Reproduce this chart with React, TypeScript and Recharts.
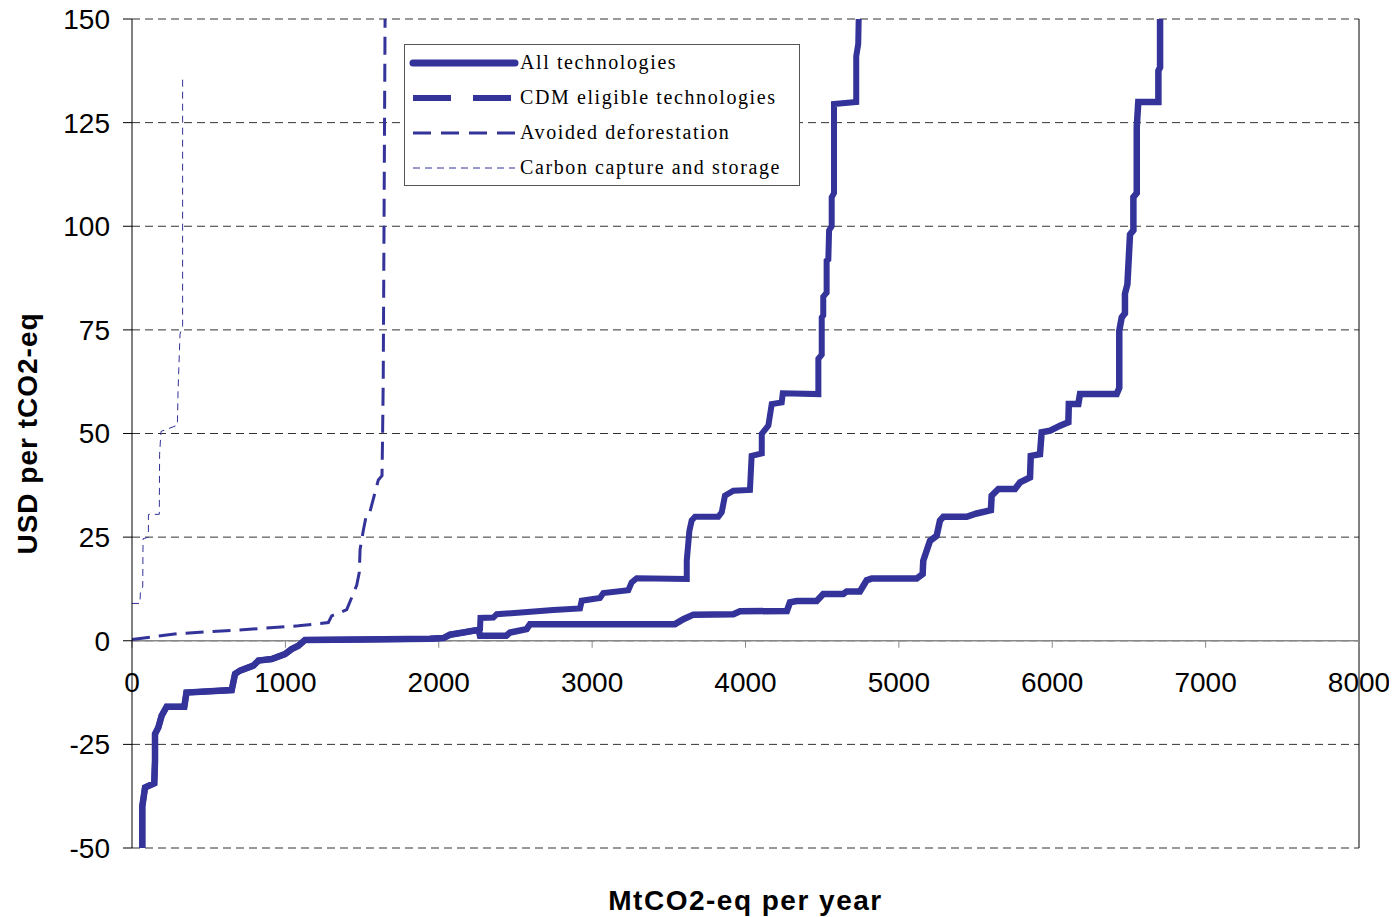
import React from 'react';
import {
  LineChart,
  Line,
  XAxis,
  YAxis,
  CartesianGrid,
  Legend,
  ReferenceLine,
  ReferenceDot,
} from 'recharts';

const xTicks = [0, 1000, 2000, 3000, 4000, 5000, 6000, 7000, 8000];
const yTicks = [-50, -25, 0, 25, 50, 75, 100, 125, 150];

// [MtCO2-eq, USD/tCO2-eq] – the part both supply curves have in common
const sharedCurve: [number, number][] = [
  [67, -50], [67, -40], [85, -35.4], [145, -34.4], [150, -29], [150, -22.5],
  [172, -20.9], [193, -18.1], [226, -15.9], [341, -15.9], [355, -12.5],
  [650, -11.9], [672, -8], [704, -7.2], [791, -6], [824, -4.8], [911, -4.4],
  [998, -3.2], [1041, -2], [1085, -1.2], [1128, 0.2], [1500, 0.3], [1943, 0.5],
  [2030, 0.65], [2073, 1.45], [2160, 2.0], [2225, 2.4], [2260, 2.6],
];

const allTechTail: [number, number][] = [
  [2269, 1.2], [2440, 1.2], [2465, 2.0], [2573, 2.8], [2595, 4.0], [3540, 4.0],
  [3595, 5.2], [3660, 6.3], [3921, 6.4], [3964, 7.1], [4270, 7.2], [4290, 9.25],
  [4334, 9.6], [4464, 9.6], [4507, 11.3], [4638, 11.3], [4660, 11.9], [4746, 11.9],
  [4790, 14.6], [4823, 15.0], [5116, 15.0], [5155, 16.1], [5159, 19.3], [5181, 21.7],
  [5203, 24.1], [5246, 25.3], [5268, 29.0], [5290, 29.9], [5442, 29.9], [5507, 30.7],
  [5600, 31.5], [5605, 35.0], [5649, 36.6], [5757, 36.6], [5790, 38.2], [5855, 39.4],
  [5860, 44.6], [5920, 45.0], [5931, 50.3], [5986, 50.7], [6051, 51.9], [6105, 52.7],
  [6108, 57.1], [6170, 57.1], [6181, 59.5], [6420, 59.5], [6437, 61], [6437, 74.8],
  [6453, 78], [6474, 79], [6474, 83.7], [6490, 86], [6507, 98], [6529, 99],
  [6529, 107], [6551, 108], [6551, 124], [6561, 130], [6692, 130], [6692, 137.5],
  [6703, 138.3], [6703, 150],
];

const cdmTail: [number, number][] = [
  [2269, 2.8], [2272, 5.5], [2356, 5.6], [2378, 6.4], [2747, 7.4], [2921, 7.8],
  [2932, 9.65], [3051, 10.3], [3073, 11.5], [3236, 12.2], [3258, 14.1], [3291, 15.1],
  [3617, 14.9], [3617, 19.3], [3634, 26.5], [3649, 29.0], [3671, 29.9], [3823, 29.9],
  [3845, 31.0], [3866, 35.0], [3921, 36.2], [4029, 36.4], [4040, 44.6], [4106, 45.2],
  [4106, 49.9], [4149, 51.9], [4171, 57.1], [4236, 57.5], [4243, 59.7], [4475, 59.5],
  [4475, 68], [4497, 69], [4497, 78], [4507, 78.5], [4507, 83], [4529, 84],
  [4529, 91.7], [4540, 92], [4545, 99], [4562, 100], [4562, 107], [4577, 108],
  [4577, 129.5], [4722, 130], [4722, 141], [4735, 144], [4738, 150],
];

const deforestation: [number, number][] = [
  [0, 0.3], [291, 1.7], [700, 2.6], [1085, 3.6], [1280, 4.4], [1302, 6.0],
  [1400, 7.5], [1465, 13.4], [1482, 16.5], [1487, 22], [1508, 26.6], [1530, 30.7],
  [1552, 31.2], [1606, 38.8], [1630, 39.8], [1634, 50], [1638, 63], [1650, 150],
];

const ccs: [number, number][] = [
  [0, 9], [52, 9], [55, 12], [70, 13], [72, 24.6], [107, 25], [107, 30.5],
  [178, 30.5], [180, 45], [189, 50.5], [296, 52], [300, 60], [313, 74],
  [330, 76], [330, 136.5],
];

const toPoints = (pts: [number, number][]) => pts.map(([x, y]) => ({ x, y }));

const allTechData = toPoints([...sharedCurve, ...allTechTail]);
const cdmData = toPoints([...sharedCurve, ...cdmTail]);
const deforestationData = toPoints(deforestation);
const ccsData = toPoints(ccs);

const BLUE = '#333399';

const legendItems = [
  { name: 'All technologies', width: 7, dash: undefined, cap: 'round' },
  { name: 'CDM eligible technologies', width: 6, dash: '38 22', cap: 'butt' },
  { name: 'Avoided deforestation', width: 3, dash: '18 10', cap: 'butt' },
  { name: 'Carbon capture and storage', width: 1, dash: '7 5', cap: 'butt' },
];

const renderLegend = () => (
  <div
    style={{
      boxSizing: 'border-box',
      width: 396,
      height: 142,
      border: '1px solid #555',
      background: '#fff',
      fontFamily: '"Liberation Serif", "Times New Roman", serif',
      fontSize: 20,
      letterSpacing: 1.6,
      color: '#000',
    }}
  >
    {legendItems.map((item) => (
      <div key={item.name} style={{ display: 'flex', alignItems: 'center', height: 35 }}>
        <svg width={114} height={20} style={{ flex: 'none' }}>
          <line
            x1={8}
            y1={10}
            x2={110}
            y2={10}
            stroke={BLUE}
            strokeWidth={item.width}
            strokeDasharray={item.dash}
            strokeLinecap={item.cap as 'round' | 'butt'}
          />
        </svg>
        <span style={{ marginLeft: 1, whiteSpace: 'nowrap' }}>{item.name}</span>
      </div>
    ))}
  </div>
);

export default function App() {
  return (
    <div style={{ fontFamily: '"Liberation Sans", Arial, sans-serif' }}>
      <style>{'.recharts-surface { overflow: visible; }'}</style>
      <LineChart
        width={1386}
        height={909}
        margin={{ top: 11, right: 35, left: 0, bottom: 0 }}
      >
        <CartesianGrid
          horizontal
          vertical={false}
          stroke="#333"
          strokeDasharray="8 5"
        />
        <XAxis
          type="number"
          dataKey="x"
          domain={[0, 8000]}
          ticks={xTicks}
          height={69}
          tick={false}
          axisLine={false}
          tickLine={false}
          label={{
            value: 'MtCO2-eq per year',
            position: 'insideBottom',
            offset: 7,
            style: { fontSize: 28, fontWeight: 'bold', fill: '#000', letterSpacing: 1.5 },
          }}
        />
        <YAxis
          type="number"
          domain={[-50, 150]}
          ticks={yTicks}
          width={124}
          interval={0}
          axisLine={{ stroke: '#000' }}
          tickLine={{ stroke: '#000' }}
          tickSize={9}
          tickMargin={13}
          tick={{ fontSize: 28, fill: '#000' }}
          label={{
            value: 'USD per tCO2-eq',
            angle: -90,
            position: 'insideLeft',
            offset: 19,
            style: {
              textAnchor: 'middle',
              fontSize: 28,
              fontWeight: 'bold',
              fill: '#000',
              letterSpacing: 1,
            },
          }}
        />
        <ReferenceLine x={8000} stroke="#000" />
        <ReferenceLine y={0} stroke="#888" strokeWidth={1.5} />
        {xTicks.map((t) => (
          <ReferenceLine
            key={`tm${t}`}
            segment={[{ x: t, y: 0 }, { x: t, y: -1.7 }]}
            stroke="#888"
          />
        ))}
        {xTicks.map((t) => (
          <ReferenceDot
            key={`tl${t}`}
            x={t}
            y={0}
            r={0}
            fill="none"
            stroke="none"
            label={{ value: t, position: 'bottom', offset: 31, fontSize: 28, fill: '#000' }}
          />
        ))}
        <Legend
          layout="horizontal"
          verticalAlign="middle"
          align="center"
          content={renderLegend}
          wrapperStyle={{ top: 36, left: 396, width: 396 }}
        />
        <Line
          data={ccsData}
          dataKey="y"
          type="linear"
          stroke={BLUE}
          strokeWidth={1}
          strokeDasharray="7 5"
          dot={false}
          isAnimationActive={false}
        />
        <Line
          data={deforestationData}
          dataKey="y"
          type="linear"
          stroke={BLUE}
          strokeWidth={3}
          strokeDasharray="18 9"
          dot={false}
          isAnimationActive={false}
        />
        <Line
          data={cdmData}
          dataKey="y"
          type="linear"
          stroke={BLUE}
          strokeWidth={6}
          strokeDasharray="1560 14"
          dot={false}
          isAnimationActive={false}
        />
        <Line
          data={allTechData}
          dataKey="y"
          type="linear"
          stroke={BLUE}
          strokeWidth={6.5}
          dot={false}
          isAnimationActive={false}
        />
      </LineChart>
    </div>
  );
}
